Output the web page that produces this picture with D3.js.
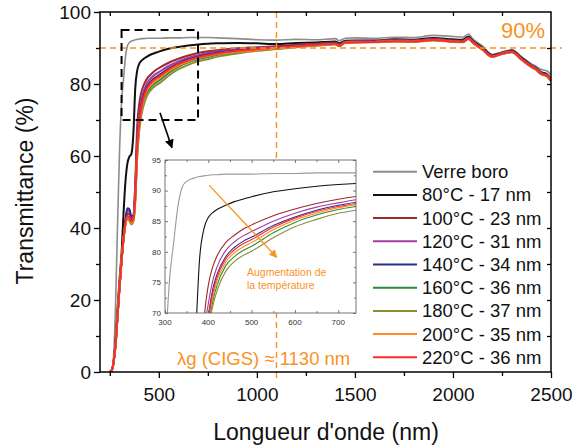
<!DOCTYPE html>
<html><head><meta charset="utf-8">
<script src="https://cdn.jsdelivr.net/npm/d3@7"></script>
<style>body{margin:0;background:#fff;} svg{display:block;font-family:"Liberation Sans",Arial,sans-serif;}</style>
</head><body><svg id="c" width="574" height="448"></svg>
<script>
// ---- data ----
const wavelengths = [250,260,270,280,290,300,310,320,330,340,350,360,370,380,390,400,410,420,440,460,480,500,550,600,650,700,750,800,900,1000,1100,1200,1300,1400,1420,1450,1500,1600,1700,1800,1900,2000,2050,2080,2100,2150,2200,2250,2300,2350,2400,2420,2450,2480,2500];
const verreBoro = [0,0.5,5,20,42,62,75,81.5,87.5,90.6,91.5,91.9,92.1,92.3,92.4,92.5,92.6,92.6,92.7,92.7,92.7,92.7,92.8,92.8,92.9,92.9,92.9,92.8,92.6,92.3,92.2,92.4,92.3,92.6,92.0,92.7,92.8,92.7,93.0,92.9,93.5,93.2,93.0,93.9,92.6,90.6,88.2,88.9,89.5,87.6,85.6,85.0,84.0,83.6,82.6];
const t80 = [0,0.5,3,9,18,26,33,44,53,58,59.8,60.6,66,79,83.8,85.6,86.4,86.9,87.6,88.2,88.6,89.0,89.8,90.3,90.7,91.0,91.2,91.3,91.4,91.3,91.1,91.4,91.5,91.8,91.3,92.0,92.1,92.1,92.4,92.3,92.8,92.4,92.3,93.2,92.1,90.1,88.0,88.7,89.3,87.3,85.2,84.6,83.3,82.7,81.4];
const t100 = [0,0.5,3,8,16,24,31,37,41.5,44,43.8,42.3,43,53,68.5,74.5,77.5,79.3,81.5,82.7,83.7,84.4,85.9,87.0,87.9,88.6,89.1,89.4,89.9,90.2,90.5,90.9,91.2,91.5,91.0,91.8,91.9,92.0,92.2,92.1,92.5,92.1,92.0,92.9,91.9,89.9,87.9,88.6,89.1,87.1,85.1,84.5,83.1,82.5,81.2];
const t120 = [0,0.5,3,8,16,24,31,37,42,45,44.5,43,43.2,51,66,71.5,75.2,77.5,80.2,81.6,82.6,83.3,85.0,86.3,87.3,88.0,88.6,89.0,89.6,90.0,90.3,90.7,91.0,91.4,90.9,91.7,91.8,91.9,92.1,92.0,92.4,92.0,91.9,92.8,91.8,89.8,87.8,88.6,89.1,87.0,85.0,84.4,83.0,82.4,81.1];
const t140 = [0,0.5,3,8,16,24,31,37.5,42.5,45.5,45.2,43.3,43.3,50,64,69.5,73.8,76.3,79.2,80.7,81.7,82.4,84.3,85.7,86.8,87.6,88.2,88.7,89.3,89.8,90.2,90.6,91.0,91.3,90.8,91.6,91.7,91.8,92.0,91.9,92.3,91.9,91.8,92.7,91.7,89.7,87.7,88.5,89.0,86.9,84.9,84.3,82.9,82.3,81.0];
const t160 = [0,0.5,3,8,16,24,31,37,41,42.8,42.3,41.2,42,48,61,67.8,71.8,74.5,77.7,79.2,80.2,80.9,83.1,84.8,86.0,86.9,87.5,88.1,88.9,89.4,89.8,90.3,90.7,91.1,90.6,91.5,91.6,91.7,91.9,91.8,92.2,91.8,91.7,92.6,91.6,89.6,87.6,88.4,88.9,86.8,84.8,84.2,82.8,82.2,80.9];
const t180 = [0,0.5,3,8,16,24,31,37,41,42.5,42,41,41.8,47.5,60,67,71,73.6,76.8,78.4,79.4,80.1,82.3,84.1,85.3,86.3,86.9,87.6,88.5,89.2,89.7,90.2,90.6,91.0,90.5,91.4,91.5,91.6,91.8,91.7,92.1,91.7,91.6,92.5,91.5,89.5,87.5,88.3,88.8,86.7,84.7,84.1,82.7,82.1,80.8];
const t200 = [0,0.5,3,8,16,24,31,37,41,43,42.5,41.5,42.2,48.5,62,68.5,72.5,75.2,78.3,79.8,80.8,81.5,83.6,85.2,86.3,87.2,87.8,88.3,89.0,89.5,89.9,90.4,90.8,91.1,90.6,91.5,91.6,91.7,91.9,91.8,92.2,91.8,91.7,92.6,91.6,89.6,87.6,88.4,88.9,86.8,84.8,84.2,82.8,82.2,80.8];
const t220 = [0,0.5,3,8,16,24,31,37,41.5,43.3,42.8,41.8,42.5,49,63,69,73.2,75.8,78.8,80.3,81.3,82.0,84.0,85.5,86.6,87.4,88.0,88.5,89.2,89.7,90.1,90.5,90.9,91.2,90.6,91.5,91.6,91.7,91.9,91.8,92.2,91.8,91.7,92.6,91.6,89.6,87.6,88.4,88.9,86.8,84.8,84.2,82.8,82.2,80.8];

const seriesNames = ["Verre boro","80°C - 17 nm","100°C - 23 nm","120°C - 31 nm","140°C - 34 nm","160°C - 36 nm","180°C - 37 nm","200°C - 35 nm","220°C - 36 nm"];
const seriesValues = [verreBoro,t80,t100,t120,t140,t160,t180,t200,t220];
const seriesColors = ["#8c8c8c","#111111","#9e2a2b","#a23ca2","#2c2c91","#2e8b3a","#8c8c35","#ff8c1e","#ff2a2a"];
const xTicks = [500,1000,1500,2000,2500];
const xMinor = [250,750,1250,1750,2250];
const yTicks = [0,20,40,60,80,100];
const yMinor = [10,30,50,70,90];
const insetXTicks = [300,400,500,600,700];
const insetXMinor = [350,450,550,650];
const insetYTicks = [70,75,80,85,90,95];
const insetYMinor = [72.5,77.5,82.5,87.5,92.5];
const refT = 90, refLambda = 1100;
const orange = "#f7931e";

const series = seriesNames.map((n,i)=>({name:n,color:seriesColors[i],pts:wavelengths.map((w,j)=>[w,seriesValues[i][j]])}));
const svg = d3.select("#c");
const x = d3.scaleLinear().domain([200,2500]).range([100,551]);
const y = d3.scaleLinear().domain([0,100]).range([372,12]);

const defs = svg.append("defs");
defs.append("clipPath").attr("id","cm").append("rect").attr("x",100).attr("y",12).attr("width",451).attr("height",360);
function marker(id,color,size){
  defs.append("marker").attr("id",id).attr("viewBox","0 0 10 10").attr("refX",9).attr("refY",5)
    .attr("markerWidth",size).attr("markerHeight",size).attr("markerUnits","userSpaceOnUse").attr("orient","auto")
    .append("path").attr("d","M0,0 L10,5 L0,10 z").attr("fill",color);
}
marker("ab","#000",9); marker("ao",orange,8);

// main lines
const line = d3.line().x(d=>x(d[0])).y(d=>y(d[1])).curve(d3.curveMonotoneX);
const gl = svg.append("g").attr("clip-path","url(#cm)");
series.forEach((s,i)=>{
  gl.append("path").attr("d",line(s.pts)).attr("fill","none").attr("stroke",s.color)
    .attr("stroke-width",i===0?1.6:2).attr("stroke-linejoin","round");
});

// ref lines
svg.append("line").attr("x1",x(200)).attr("x2",562).attr("y1",y(refT)).attr("y2",y(refT))
  .attr("stroke",orange).attr("stroke-width",1.4).attr("stroke-dasharray","6,4");
svg.append("line").attr("x1",x(refLambda)).attr("x2",x(refLambda)).attr("y1",y(100)).attr("y2",378)
  .attr("stroke",orange).attr("stroke-width",1.4).attr("stroke-dasharray","6,4");

// axes
const fs = 19;
const fmt = d3.format("d");
const ax = svg.append("g").attr("transform","translate(0,372)").call(d3.axisBottom(x).tickValues(xTicks).tickSize(6).tickPadding(10).tickFormat(fmt));
ax.append("g").call(d3.axisBottom(x).tickValues(xMinor).tickSize(4).tickFormat(""));
const ay = svg.append("g").attr("transform","translate(100,0)").call(d3.axisLeft(y).tickValues(yTicks).tickSize(6).tickPadding(3).tickFormat(fmt));
ay.append("g").call(d3.axisLeft(y).tickValues(yMinor).tickSize(4).tickFormat(""));
svg.append("g").attr("transform","translate(0,12)").call(d3.axisBottom(x).tickValues(xMinor.concat(xTicks).filter(v=>v<2500)).tickSize(4).tickFormat(""));
svg.append("g").attr("transform","translate(551,0)").call(d3.axisLeft(y).tickValues(yMinor.concat(yTicks).filter(v=>v>0&&v<100)).tickSize(4).tickFormat(""));
svg.selectAll(".domain").remove();
svg.selectAll(".tick line").attr("stroke","#000").attr("stroke-width",1.3);
svg.selectAll(".tick text").attr("font-size",fs).attr("font-family","Liberation Sans, Arial, sans-serif").attr("fill","#111");
svg.append("rect").attr("x",100).attr("y",12).attr("width",451).attr("height",360).attr("fill","none").attr("stroke","#000").attr("stroke-width",1.5);

// titles
svg.append("text").attr("x",326).attr("y",440).attr("text-anchor","middle").attr("font-size",23).attr("fill","#111").text("Longueur d'onde (nm)");
svg.append("text").attr("transform","translate(33,191) rotate(-90)").attr("text-anchor","middle").attr("font-size",23).attr("fill","#111").text("Transmittance (%)");

svg.append("text").attr("x",501).attr("y",38).attr("font-size",22).attr("fill",orange).text("90%");
svg.append("text").attr("x",177).attr("y",365).attr("font-size",18.5).attr("fill",orange).text("λg (CIGS) ≈ 1130 nm");

// dashed zoom box + arrow
svg.append("rect").attr("x",x(310)).attr("y",y(95)).attr("width",x(700)-x(310)).attr("height",y(70)-y(95))
  .attr("fill","none").attr("stroke","#000").attr("stroke-width",2).attr("stroke-dasharray","8,5");
svg.append("line").attr("x1",x(506)).attr("y1",y(72)).attr("x2",x(567)).attr("y2",y(62.3))
  .attr("stroke","#000").attr("stroke-width",1.6).attr("marker-end","url(#ab)");

// legend
const lg = svg.append("g");
series.forEach((s,i)=>{
  const yy = 171.7 + i*23.2;
  lg.append("line").attr("x1",373).attr("x2",417).attr("y1",yy).attr("y2",yy).attr("stroke",s.color).attr("stroke-width",2);
  lg.append("text").attr("x",422).attr("y",yy+6.5).attr("font-size",18.5).attr("fill","#111").text(s.name);
});

// inset
const ix = d3.scaleLinear().domain([300,741]).range([165,356]);
const iy = d3.scaleLinear().domain([70,95]).range([313,160]);
defs.append("clipPath").attr("id","ci").append("rect").attr("x",165).attr("y",160).attr("width",191).attr("height",153);
const ig = svg.append("g");
ig.append("rect").attr("x",165).attr("y",160).attr("width",191).attr("height",153).attr("fill","#fff");
const iline = d3.line().x(d=>ix(d[0])).y(d=>iy(d[1])).curve(d3.curveMonotoneX);
const igl = ig.append("g").attr("clip-path","url(#ci)");
series.forEach((s,i)=>{
  igl.append("path").attr("d",iline(s.pts)).attr("fill","none").attr("stroke",i===0?"#9a9a9a":s.color).attr("stroke-width",1.1);
});
const ia = ig.append("g").attr("class","ia");
ia.append("g").attr("transform","translate(0,313)").call(d3.axisTop(ix).tickValues(insetXTicks).tickSize(3).tickFormat(""));
ia.append("g").attr("transform","translate(0,313)").call(d3.axisTop(ix).tickValues(insetXMinor).tickSize(2).tickFormat(""));
ia.append("g").attr("transform","translate(0,160)").call(d3.axisBottom(ix).tickValues(insetXTicks).tickSize(3).tickFormat(""));
ia.append("g").attr("transform","translate(0,160)").call(d3.axisBottom(ix).tickValues(insetXMinor).tickSize(2).tickFormat(""));
ia.append("g").attr("transform","translate(165,0)").call(d3.axisRight(iy).tickValues(insetYTicks).tickSize(3).tickFormat(""));
ia.append("g").attr("transform","translate(165,0)").call(d3.axisRight(iy).tickValues(insetYMinor).tickSize(2).tickFormat(""));
ia.append("g").attr("transform","translate(356,0)").call(d3.axisLeft(iy).tickValues(insetYTicks).tickSize(3).tickFormat(""));
ia.append("g").attr("transform","translate(356,0)").call(d3.axisLeft(iy).tickValues(insetYMinor).tickSize(2).tickFormat(""));
ia.selectAll(".domain").remove();
ia.selectAll(".tick line").attr("stroke","#555").attr("stroke-width",0.8);
insetXTicks.forEach(v=>{
  ig.append("text").attr("x",ix(v)).attr("y",324.5).attr("text-anchor","middle").attr("font-size",8).attr("fill","#333").text(v);
});
insetYTicks.forEach(v=>{
  ig.append("text").attr("x",161).attr("y",iy(v)).attr("dy","0.35em").attr("text-anchor","end").attr("font-size",8).attr("fill","#333").text(v);
});
ig.append("rect").attr("x",165).attr("y",160).attr("width",191).attr("height",153).attr("fill","none").attr("stroke","#666").attr("stroke-width",0.9);
ig.append("line").attr("x1",ix(401.7)).attr("y1",iy(90.9)).attr("x2",ix(558)).attr("y2",iy(79.1))
  .attr("stroke",orange).attr("stroke-width",1.3).attr("marker-end","url(#ao)");
ig.append("text").attr("x",247).attr("y",276).attr("font-size",10.5).attr("fill",orange).text("Augmentation de");
ig.append("text").attr("x",247).attr("y",288.5).attr("font-size",10.5).attr("fill",orange).text("la température");
</script></body></html>
